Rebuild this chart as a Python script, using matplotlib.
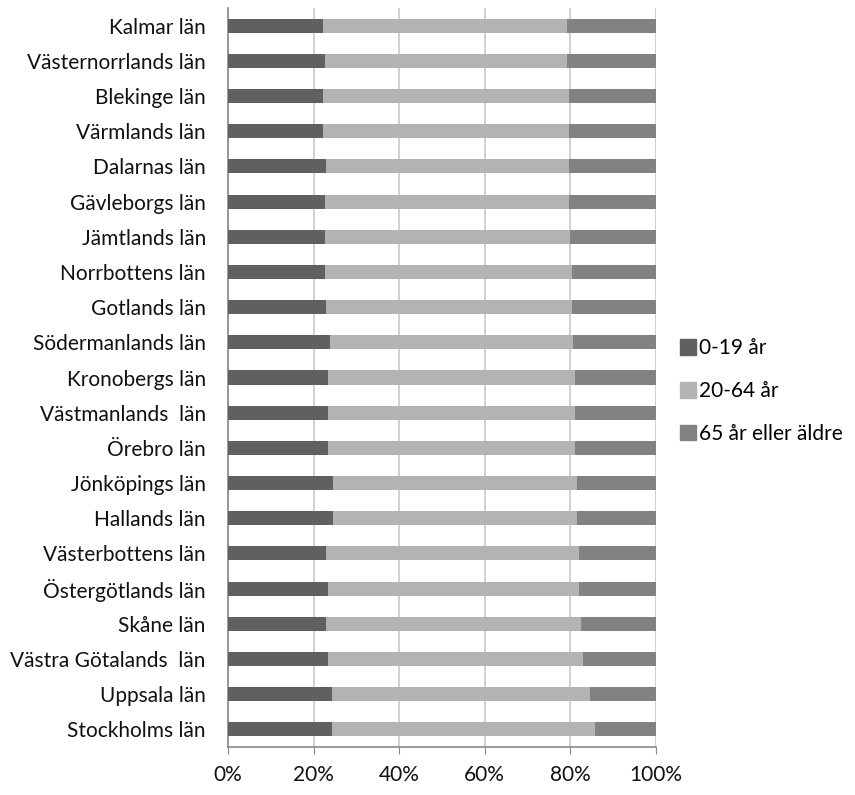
import numpy as np
import matplotlib.pyplot as plt
from matplotlib.patches import Patch
from matplotlib.ticker import FuncFormatter

plt.rcParams['font.family'] = ['Lato', 'DejaVu Sans']

# counties, top to bottom as in the chart
lan = ['Kalmar län', 'Västernorrlands län', 'Blekinge län', 'Värmlands län',
       'Dalarnas län', 'Gävleborgs län', 'Jämtlands län', 'Norrbottens län',
       'Gotlands län', 'Södermanlands län', 'Kronobergs län', 'Västmanlands  län',
       'Örebro län', 'Jönköpings län', 'Hallands län', 'Västerbottens län',
       'Östergötlands län', 'Skåne län', 'Västra Götalands  län', 'Uppsala län',
       'Stockholms län']

# share of population (%)
age_0_19 = [22.2, 22.6, 22.2, 22.2, 22.9, 22.6, 22.6, 22.6, 22.9, 23.9, 23.4,
            23.4, 23.4, 24.6, 24.6, 22.9, 23.4, 22.9, 23.4, 24.2, 24.2]
age_20_64 = [57.0, 56.6, 57.4, 57.4, 56.7, 57.0, 57.4, 57.8, 57.5, 56.8, 57.7,
             57.7, 57.7, 57.0, 57.0, 59.2, 58.7, 59.6, 59.5, 60.3, 61.6]
age_65 = [100 - a - b for a, b in zip(age_0_19, age_20_64)]

series = ['0-19 år', '20-64 år', '65 år eller äldre']
colors = ['#606060', '#b3b3b3', '#828282']

fs = 15

fig = plt.figure(figsize=(8.55, 7.95), dpi=100)
ax = fig.add_axes([228 / 855, 48 / 795, 428 / 855, 739 / 795])

y = np.arange(len(lan))[::-1]
left = np.zeros(len(lan))
for vals, name, c in zip([age_0_19, age_20_64, age_65], series, colors):
    ax.barh(y, vals, left=left, height=0.4, color=c, label=name, zorder=3)
    left += np.array(vals)

ax.set_xlim(0, 100)
ax.set_ylim(-0.5, len(lan) - 0.5)
ax.set_xticks([0, 20, 40, 60, 80, 100])
ax.xaxis.set_major_formatter(FuncFormatter(lambda v, p: '%d%%' % v))
ax.set_yticks(y)
ax.set_yticklabels(lan, fontsize=fs, color='#111111')
ax.grid(axis='x', color='#c8c8c8', linewidth=1.2, zorder=0)

for s in ['top', 'right']:
    ax.spines[s].set_visible(False)
for s in ['left', 'bottom']:
    ax.spines[s].set_color('#888888')
    ax.spines[s].set_linewidth(1.2)
ax.tick_params(axis='y', length=0, pad=16)
ax.tick_params(axis='x', length=5, color='#888888', labelsize=fs, pad=8,
               labelcolor='#111111')

handles = [Patch(color=c, label=n) for c, n in zip(colors, series)]
fig.legend(handles=handles, loc='center left', bbox_to_anchor=(672 / 855, 0.508),
           frameon=False, fontsize=fs, handlelength=0.75, handleheight=0.75,
           handletextpad=0.15, labelspacing=1.1, borderaxespad=0)

fig.savefig('out.png', dpi=100)
